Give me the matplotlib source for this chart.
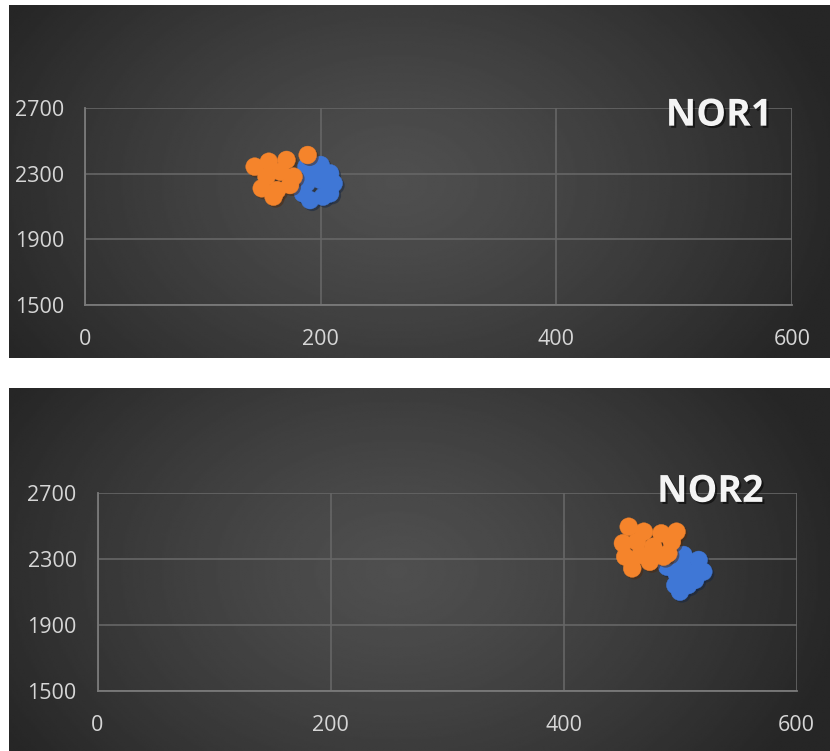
import numpy as np
import matplotlib.pyplot as plt
import matplotlib.patheffects as pe


plt.rcParams.update({
    "font.family": ["Open Sans", "DejaVu Sans"],
})

# Datos de los dos paneles
nor1_orange_x = [144, 156, 171, 154, 166, 150, 163, 174, 160, 177, 189]
nor1_orange_y = [2344, 2374, 2385, 2283, 2313, 2212, 2201, 2232, 2161, 2283, 2415]
nor1_blue_x = [188, 200, 208, 211, 200, 188, 191, 202, 185, 208, 193]
nor1_blue_y = [2344, 2354, 2303, 2242, 2262, 2242, 2140, 2161, 2181, 2181, 2303]

nor2_orange_x = [456, 469, 451, 463, 453, 466, 459, 474, 486, 484, 497, 493, 477, 490]
nor2_orange_y = [2494, 2464, 2394, 2403, 2313, 2323, 2242, 2282, 2313, 2454, 2464, 2403, 2373, 2333]
nor2_blue_x = [503, 516, 520, 509, 497, 496, 507, 500, 513, 489, 502]
nor2_blue_y = [2323, 2293, 2222, 2212, 2212, 2141, 2141, 2101, 2172, 2252, 2262]

x_ticks = [0, 200, 400, 600]
y_ticks = [1500, 1900, 2300, 2700]

ORANGE = "#f5842b"
BLUE = "#3f77d6"
GRID = "#666666"
TEXT = "#d6d6d6"

W, H = 830, 751


def fig_rect(left, top, right, bottom):
    # convierte píxeles a coordenadas de figura
    return [left / W, 1 - bottom / H, (right - left) / W, (bottom - top) / H]


def background(fig, rect):
    bg = fig.add_axes(rect, zorder=0)
    ny, nx = 200, 400
    yy, xx = np.mgrid[0:ny, 0:nx]
    dx = (xx - nx * 0.47) / (nx * 0.55)
    dy = (yy - ny * 0.5) / (ny * 0.9)
    r = np.clip(np.sqrt(dx**2 + dy**2), 0, 1)
    shade = 0.31 - 0.16 * r**1.3
    bg.imshow(shade, cmap="gray", vmin=0, vmax=1, aspect="auto",
              interpolation="bilinear")
    bg.axis("off")


def panel(fig, rect, ox, oy, bx, by, label, label_xy):
    ax = fig.add_axes(rect, zorder=1)
    ax.set_facecolor("none")
    ax.set_xlim(0, 600)
    ax.set_ylim(1500, 2700)
    ax.set_xticks(x_ticks)
    ax.set_yticks(y_ticks)
    ax.grid(True, color=GRID, linewidth=1.2)
    ax.set_axisbelow(True)
    for side in ["top", "right"]:
        ax.spines[side].set_visible(False)
    for side in ["left", "bottom"]:
        ax.spines[side].set_color("#7a7a7a")
        ax.spines[side].set_linewidth(1.3)
    ax.tick_params(length=0, colors=TEXT, labelsize=15.5)
    ax.tick_params(axis="y", pad=15)
    ax.tick_params(axis="x", pad=17)

    shadow = [pe.SimplePatchShadow(offset=(1.5, -1.5), alpha=0.5), pe.Normal()]
    ax.scatter(bx, by, s=165, color=BLUE, edgecolor=BLUE,
               linewidth=0.3, zorder=3, path_effects=shadow, clip_on=False)
    ax.scatter(ox, oy, s=165, color=ORANGE, edgecolor=ORANGE,
               linewidth=0.3, zorder=4, path_effects=shadow, clip_on=False)

    ax.text(label_xy[0], label_xy[1], label, fontsize=27, fontweight="bold",
            color="#f4f4f4", ha="center", va="center", zorder=5,
            clip_on=False,
            path_effects=[pe.withSimplePatchShadow(offset=(1.5, -1.5),
                                                   shadow_rgbFace="black",
                                                   alpha=0.55)])
    return ax


fig = plt.figure(figsize=(W / 100, H / 100), dpi=100)
fig.patch.set_facecolor("white")

background(fig, fig_rect(9, 5, 830, 358))
background(fig, fig_rect(9, 388, 830, 751))

panel(fig, fig_rect(85, 108.3, 792, 305),
      nor1_orange_x, nor1_orange_y, nor1_blue_x, nor1_blue_y,
      "NOR1", (538, 2655))
panel(fig, fig_rect(97.5, 492.7, 796.5, 691),
      nor2_orange_x, nor2_orange_y, nor2_blue_x, nor2_blue_y,
      "NOR2", (526, 2705))

fig.savefig("out.png", dpi=100)
